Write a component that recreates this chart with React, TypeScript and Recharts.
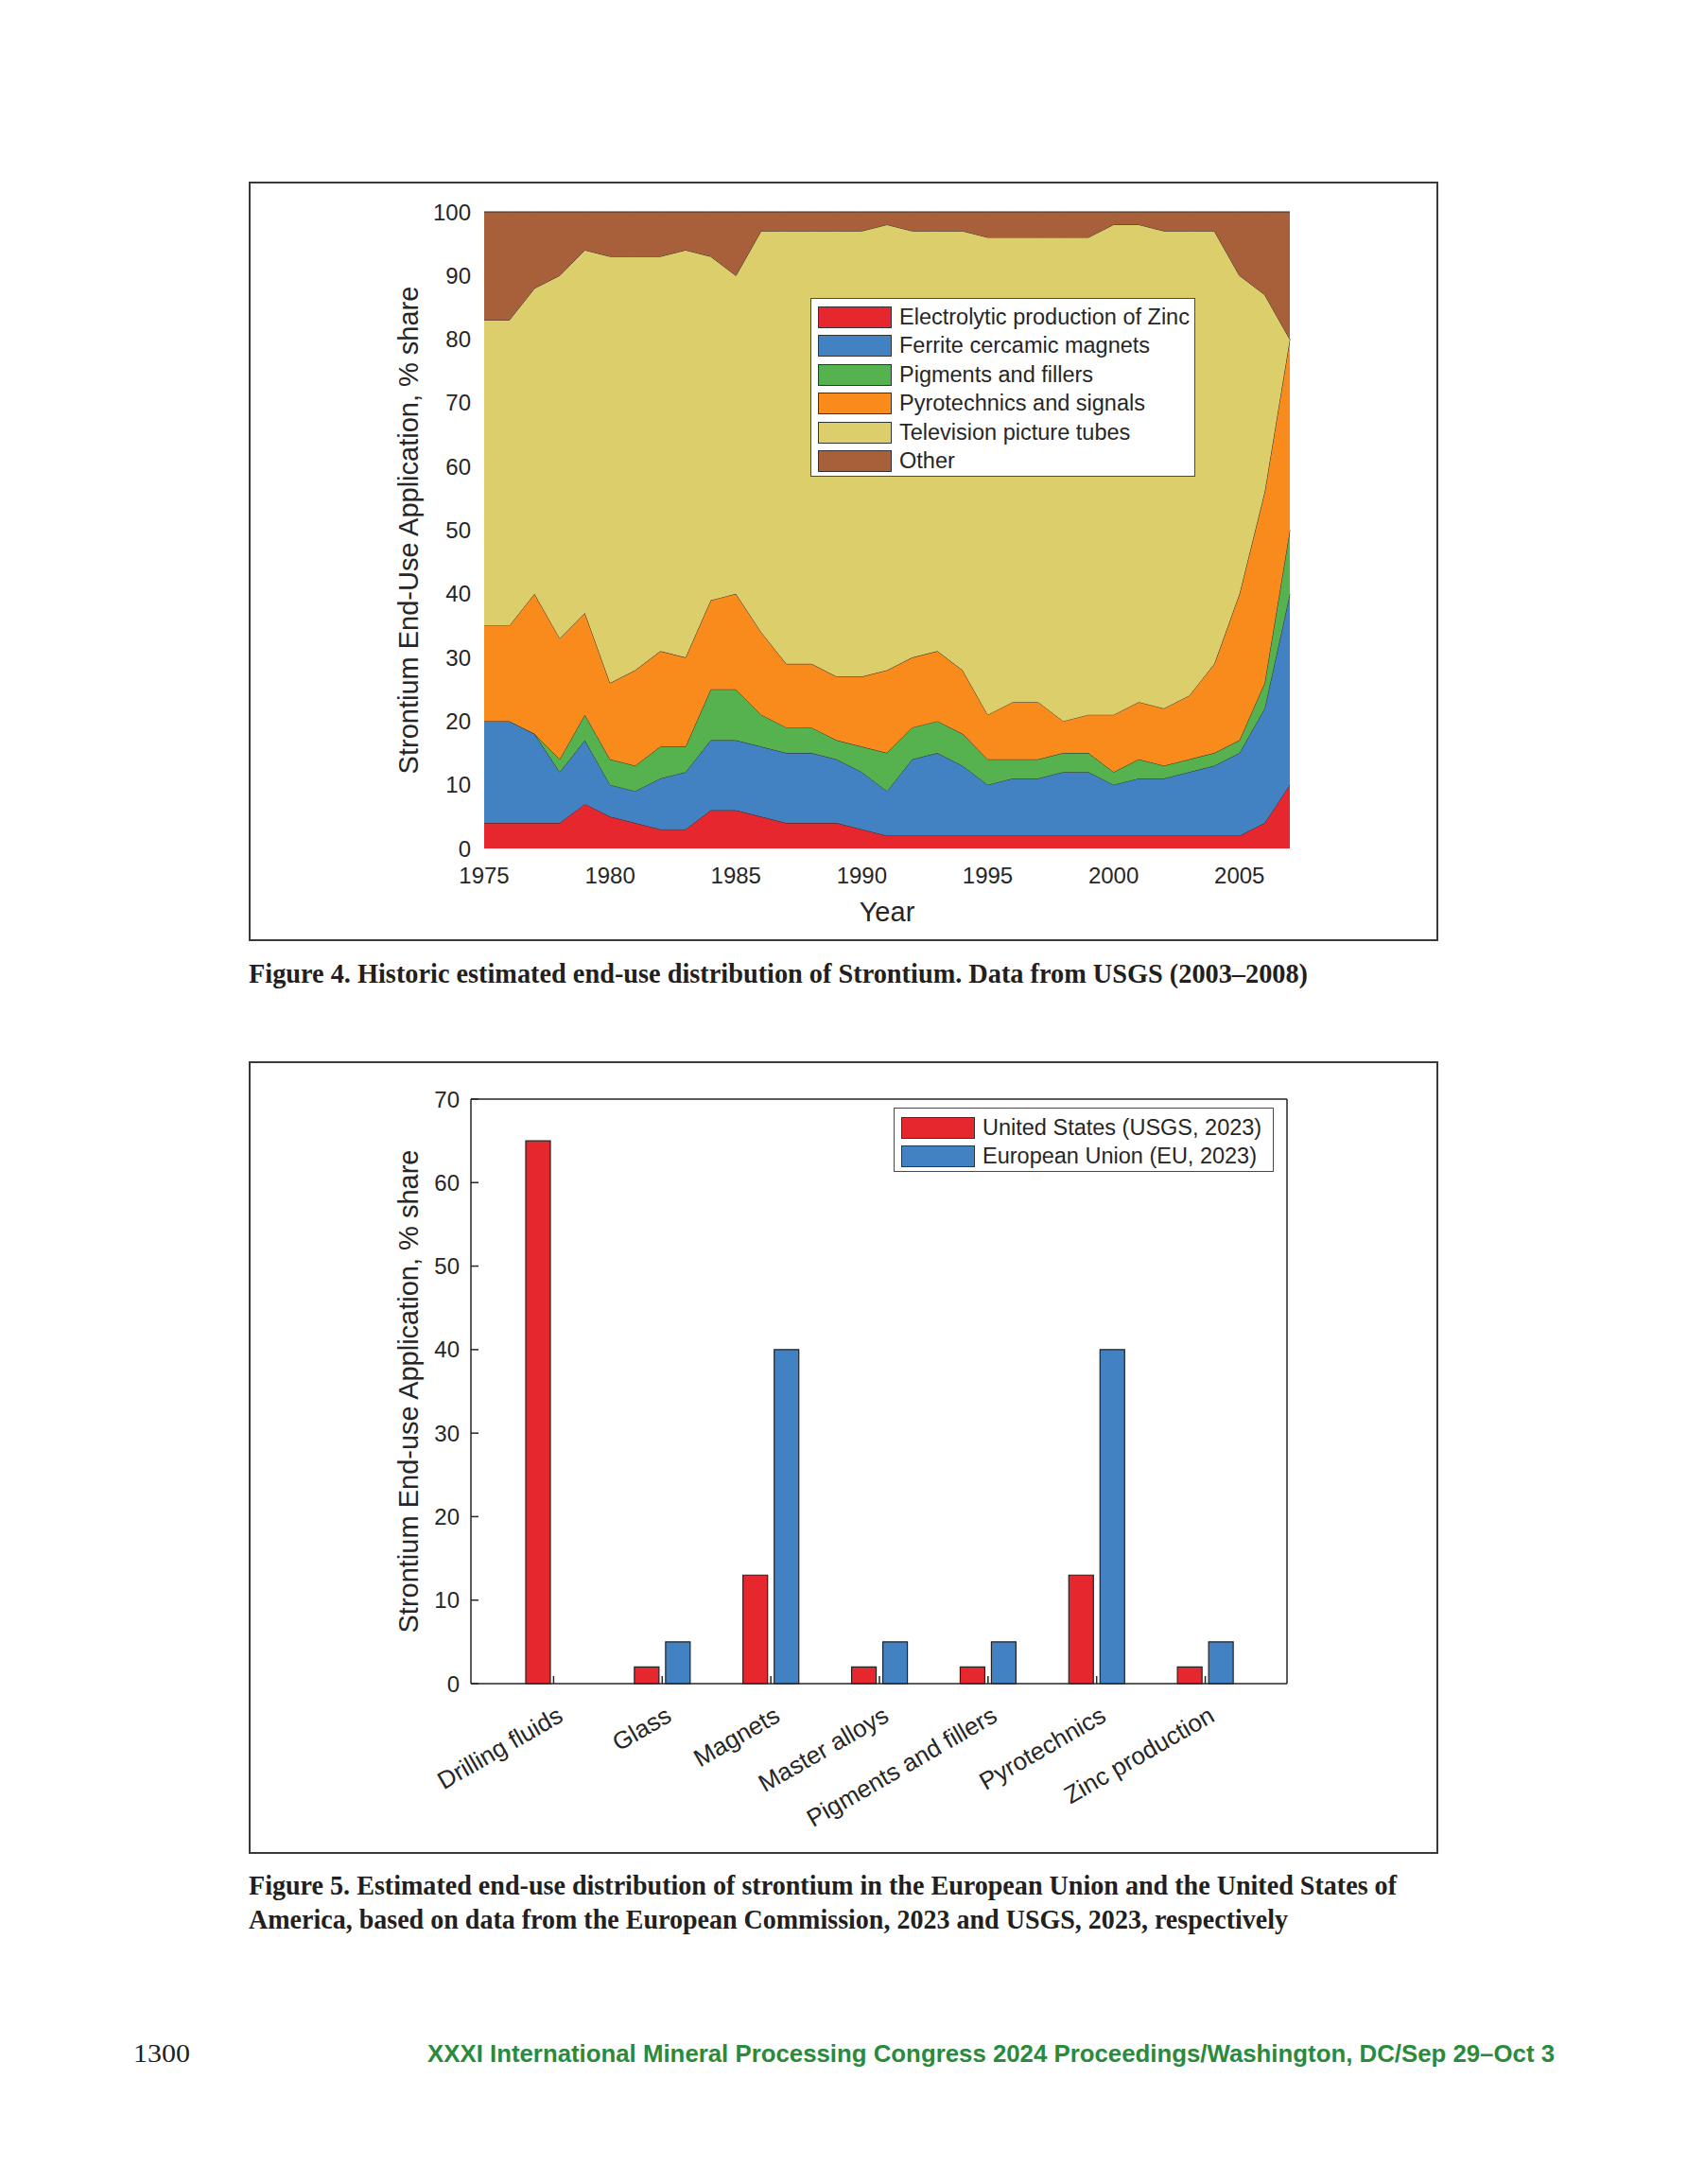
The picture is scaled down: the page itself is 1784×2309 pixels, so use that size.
import React from "react";
import { AreaChart, Area, BarChart, Bar, XAxis, YAxis, Legend } from "recharts";

// Figure 4 - historic end-use shares (%), stacked bottom to top
const years = [
  1975, 1976, 1977, 1978, 1979, 1980, 1981, 1982, 1983, 1984, 1985, 1986, 1987, 1988, 1989, 1990, 1991,
  1992, 1993, 1994, 1995, 1996, 1997, 1998, 1999, 2000, 2001, 2002, 2003, 2004, 2005, 2006, 2007,
];
const zincShare = [4, 4, 4, 4, 7, 5, 4, 3, 3, 6, 6, 5, 4, 4, 4, 3, 2, 2, 2, 2, 2, 2, 2, 2, 2, 2, 2, 2, 2, 2, 2, 4, 10];
const ferriteShare = [16, 16, 14, 8, 10, 5, 5, 8, 9, 11, 11, 11, 11, 11, 10, 9, 7, 12, 13, 11, 8, 9, 9, 10, 10, 8, 9, 9, 10, 11, 13, 18, 30];
const pigmentShare = [0, 0, 0, 2, 4, 4, 4, 5, 4, 8, 8, 5, 4, 4, 3, 4, 6, 5, 5, 5, 4, 3, 3, 3, 3, 2, 3, 2, 2, 2, 2, 4, 10];
const pyroShare = [15, 15, 22, 19, 16, 12, 15, 15, 14, 14, 15, 13, 10, 10, 10, 11, 13, 11, 11, 10, 7, 9, 9, 5, 6, 9, 9, 9, 10, 14, 23, 30, 30];
const tvShare = [48, 48, 48, 57, 57, 67, 65, 62, 64, 54, 50, 63, 68, 68, 70, 70, 70, 67, 66, 69, 75, 73, 73, 76, 75, 77, 75, 75, 73, 68, 50, 31, 0];
const otherShare = [17, 17, 12, 10, 6, 7, 7, 7, 6, 7, 10, 3, 3, 3, 3, 3, 2, 3, 3, 3, 4, 4, 4, 4, 4, 2, 2, 3, 3, 3, 10, 13, 20];
const yearTicks = [1975, 1980, 1985, 1990, 1995, 2000, 2005];
const shareTicks = [0, 10, 20, 30, 40, 50, 60, 70, 80, 90, 100];

// Figure 5 - EU vs US end-use (%)
const categories = [
  "Drilling fluids",
  "Glass",
  "Magnets",
  "Master alloys",
  "Pigments and fillers",
  "Pyrotechnics",
  "Zinc production",
];
const usShare = [65, 2, 13, 2, 2, 13, 2];
const euShare = [0, 5, 40, 5, 5, 40, 5];
const barTicks = [0, 10, 20, 30, 40, 50, 60, 70];

const RED = "#e6272d";
const BLUE = "#4282c3";
const GREEN = "#55b24f";
const ORANGE = "#f98b1d";
const KHAKI = "#dccf6b";
const BROWN = "#a8603a";
const INK = "#262626";
const SANS = '"Liberation Sans", Arial, Helvetica, sans-serif';
const SERIF = '"Liberation Serif", "Times New Roman", serif';

const topSeries = [
  { key: "zinc", name: "Electrolytic production of Zinc", color: RED },
  { key: "ferrite", name: "Ferrite cercamic magnets", color: BLUE },
  { key: "pigment", name: "Pigments and fillers", color: GREEN },
  { key: "pyro", name: "Pyrotechnics and signals", color: ORANGE },
  { key: "tv", name: "Television picture tubes", color: KHAKI },
  { key: "other", name: "Other", color: BROWN },
];

const barSeries = [
  { key: "us", name: "United States (USGS, 2023)", color: RED },
  { key: "eu", name: "European Union (EU, 2023)", color: BLUE },
];

const topData = years.map((year, i) => ({
  year,
  zinc: zincShare[i],
  ferrite: ferriteShare[i],
  pigment: pigmentShare[i],
  pyro: pyroShare[i],
  tv: tvShare[i],
  other: otherShare[i],
}));

const barData = categories.map((cat, i) => ({ cat, us: usShare[i], eu: euShare[i] }));

function BoxLegend({ items, rowH, firstRow }: { items: { name: string; color: string }[]; rowH: number; firstRow: number }) {
  return (
    <div
      style={{
        position: "relative",
        width: "100%",
        height: "100%",
        boxSizing: "border-box",
        border: "1.5px solid #4a4a4a",
        background: "#fff",
        fontFamily: SANS,
        fontSize: 23.5,
        color: INK,
      }}
    >
      {items.map((it, i) => (
        <div key={it.name} style={{ position: "absolute", left: 0, top: firstRow + i * rowH - 12, height: 24, width: "100%" }}>
          <div
            style={{
              position: "absolute",
              left: 7,
              top: 0,
              width: 78,
              height: 23,
              boxSizing: "border-box",
              background: it.color,
              border: "1.5px solid #333",
            }}
          />
          <div style={{ position: "absolute", left: 93, top: -2, lineHeight: "27px", whiteSpace: "nowrap" }}>{it.name}</div>
        </div>
      ))}
    </div>
  );
}

// MATLAB-style labels rotated 30 degrees, right end at the tick
function RotatedTick(props: any) {
  const { x, y, payload } = props;
  const ax = x + 7;
  const ay = y + 4;
  return (
    <text
      x={ax}
      y={ay}
      textAnchor="end"
      dominantBaseline="central"
      transform={`rotate(-30 ${ax} ${ay})`}
      fontFamily={SANS}
      fontSize={26}
      fill={INK}
    >
      {payload.value}
    </text>
  );
}

const tickFont = { fontFamily: SANS, fontSize: 24, fill: INK };
const titleFont = { fontFamily: SANS, fontSize: 29, fill: INK };

function Frame({ left, top, width, height }: { left: number; top: number; width: number; height: number }) {
  return (
    <div
      style={{
        position: "absolute",
        left,
        top,
        width,
        height,
        boxSizing: "border-box",
        border: "2px solid #3a3a3a",
      }}
    />
  );
}

export default function App() {
  return (
    <div style={{ position: "absolute", left: 0, top: 0, width: 1784, height: 2309, background: "#fff", overflow: "hidden" }}>
      <Frame left={263} top={192} width={1258} height={803} />
      <div style={{ position: "absolute", left: 263, top: 192 }}>
        <AreaChart width={1258} height={803} data={topData} margin={{ top: 32, right: 157, left: 169, bottom: 18 }}>
          <XAxis
            type="number"
            dataKey="year"
            domain={[1975, 2007]}
            ticks={yearTicks}
            axisLine={false}
            tickLine={false}
            tickSize={0}
            tickMargin={20}
            height={80}
            tick={tickFont}
            label={{ value: "Year", position: "insideBottom", offset: 3, style: titleFont }}
          />
          <YAxis
            type="number"
            domain={[0, 100]}
            ticks={shareTicks}
            axisLine={false}
            tickLine={false}
            tickSize={0}
            tickMargin={14}
            width={80}
            tick={tickFont}
            label={{
              value: "Strontium End-Use Application, % share",
              angle: -90,
              position: "insideLeft",
              offset: 0,
              style: { ...titleFont, textAnchor: "middle" },
            }}
          />
          {topSeries.map((s) => (
            <Area
              key={s.key}
              type="linear"
              dataKey={s.key}
              name={s.name}
              stackId="1"
              fill={s.color}
              fillOpacity={1}
              stroke="#2b2b2b"
              strokeWidth={1}
              isAnimationActive={false}
            />
          ))}
          <Legend
            layout="vertical"
            align="center"
            verticalAlign="middle"
            wrapperStyle={{ position: "absolute", left: 594, top: 123, width: 407, height: 189 }}
            content={() => <BoxLegend items={topSeries} rowH={30.4} firstRow={20} />}
          />
        </AreaChart>
      </div>

      <Frame left={263} top={1122} width={1258} height={838} />
      <div style={{ position: "absolute", left: 263, top: 1122 }}>
        <BarChart
          width={1258}
          height={838}
          data={barData}
          margin={{ top: 39, right: 159, left: 169, bottom: 30 }}
          barSize={26}
          barGap={7}
        >
          <XAxis
            dataKey="cat"
            interval={0}
            padding={{ left: 30, right: 29 }}
            height={150}
            stroke={INK}
            strokeWidth={1.5}
            tickSize={-8}
            tickMargin={35}
            tick={<RotatedTick />}
          />
          <XAxis
            xAxisId="top"
            dataKey="cat"
            orientation="top"
            interval={0}
            padding={{ left: 30, right: 29 }}
            height={1}
            stroke={INK}
            strokeWidth={1.5}
            tickSize={-8}
            tick={false}
          />
          <YAxis
            type="number"
            domain={[0, 70]}
            ticks={barTicks}
            width={66}
            stroke={INK}
            strokeWidth={1.5}
            tickSize={-8}
            tickMargin={20}
            tick={tickFont}
            label={{
              value: "Strontium End-use Application, % share",
              angle: -90,
              position: "insideLeft",
              offset: 0,
              style: { ...titleFont, textAnchor: "middle" },
            }}
          />
          <YAxis
            yAxisId="right"
            orientation="right"
            type="number"
            domain={[0, 70]}
            allowDataOverflow
            ticks={barTicks}
            width={1}
            stroke={INK}
            strokeWidth={1.5}
            tickSize={-8}
            tick={false}
          />
          {barSeries.map((s) => (
            <Bar
              key={s.key}
              dataKey={s.key}
              name={s.name}
              fill={s.color}
              stroke="#222"
              strokeWidth={1.2}
              isAnimationActive={false}
            />
          ))}
          <Legend
            layout="vertical"
            align="center"
            verticalAlign="middle"
            wrapperStyle={{ position: "absolute", left: 682, top: 49, width: 402, height: 68 }}
            content={() => <BoxLegend items={barSeries} rowH={30} firstRow={21} />}
          />
        </BarChart>
      </div>

      <svg width={1784} height={2309} style={{ position: "absolute", left: 0, top: 0, pointerEvents: "none" }}>
        <text x={263} y={1039} fontFamily={SERIF} fontWeight="bold" fontSize={30} fill="#231f20" textLength={1120} lengthAdjust="spacingAndGlyphs">
          Figure 4. Historic estimated end-use distribution of Strontium. Data from USGS (2003–2008)
        </text>
        <text x={263} y={2003} fontFamily={SERIF} fontWeight="bold" fontSize={30} fill="#231f20" textLength={1214} lengthAdjust="spacingAndGlyphs">
          Figure 5. Estimated end-use distribution of strontium in the European Union and the United States of
        </text>
        <text x={263} y={2039} fontFamily={SERIF} fontWeight="bold" fontSize={30} fill="#231f20" textLength={1099} lengthAdjust="spacingAndGlyphs">
          America, based on data from the European Commission, 2023 and USGS, 2023, respectively
        </text>
        <text x={141} y={2180} fontFamily={SERIF} fontSize={27} fill="#231f20" textLength={60} lengthAdjust="spacingAndGlyphs">
          1300
        </text>
        <text x={452} y={2180} fontFamily={SANS} fontWeight="bold" fontSize={26} fill="#2b8a3b" textLength={1192} lengthAdjust="spacingAndGlyphs">
          XXXI International Mineral Processing Congress 2024 Proceedings/Washington, DC/Sep 29–Oct 3
        </text>
      </svg>
    </div>
  );
}
